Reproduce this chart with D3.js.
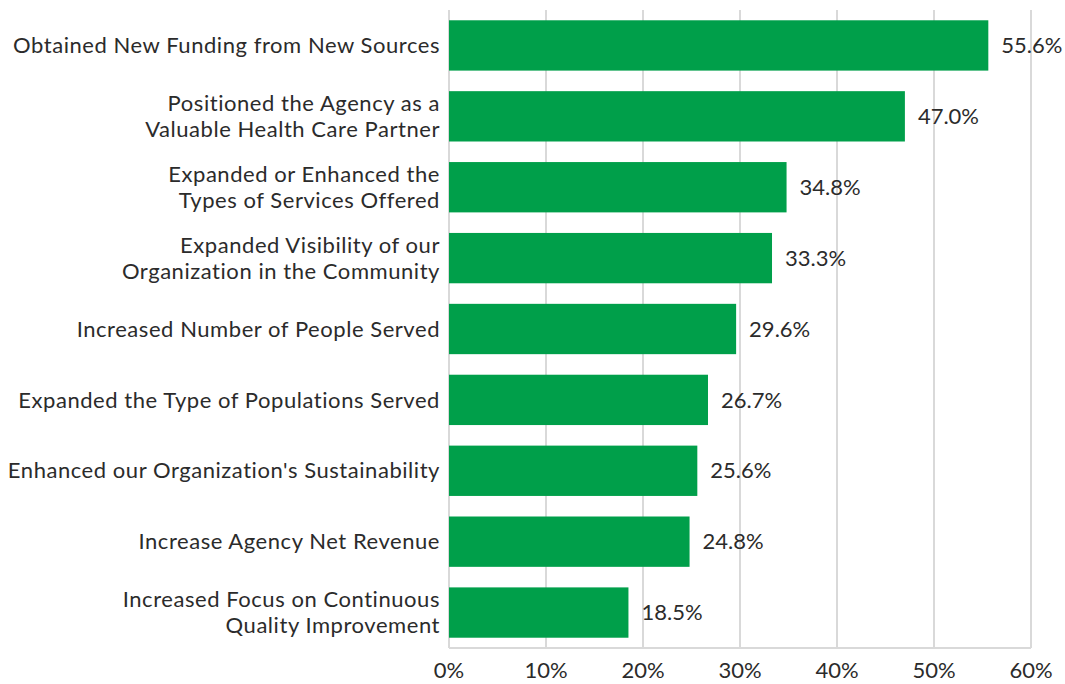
<!DOCTYPE html>
<html>
<head>
<meta charset="utf-8">
<script src="https://cdn.jsdelivr.net/npm/d3@7"></script>
<style>
  body { margin: 0; background: #fff; }
  text { font-family: Lato, "Open Sans", sans-serif; fill: #2b2b2b; }
</style>
</head>
<body>
<div id="chart"></div>
<script>
// Chart data
var categories = [
    ["Obtained New Funding from New Sources"],
    ["Positioned the Agency as a", "Valuable Health Care Partner"],
    ["Expanded or Enhanced the", "Types of Services Offered"],
    ["Expanded Visibility of our", "Organization in the Community"],
    ["Increased Number of People Served"],
    ["Expanded the Type of Populations Served"],
    ["Enhanced our Organization's Sustainability"],
    ["Increase Agency Net Revenue"],
    ["Increased Focus on Continuous", "Quality Improvement"]
];
var values = [55.6, 47.0, 34.8, 33.3, 29.6, 26.7, 25.6, 24.8, 18.5];
var ticks = [0, 10, 20, 30, 40, 50, 60];

var width = 1065, height = 684;
var margin = {top: 10, right: 34, bottom: 36, left: 449};
var fontSize = "22px";

var svg = d3.select("#chart").append("svg")
    .attr("width", width)
    .attr("height", height)

var x = d3.scaleLinear()
    .domain([0, 60])
    .range([margin.left, width - margin.right]);

var y = d3.scaleBand()
    .domain(d3.range(values.length))
    .range([margin.top, height - margin.bottom])
    .paddingInner(0.29)
    .paddingOuter(0.145);

// Gridlines
svg.append("g")
    .selectAll("line")
    .data(ticks)
    .enter()
    .append("line")
    .attr("x1", function(d) { return x(d); })
    .attr("x2", function(d) { return x(d); })
    .attr("y1", margin.top)
    .attr("y2", height - margin.bottom)
    .attr("stroke", "#d9d9d9")
    .attr("stroke-width", 2)

// Bottom axis line
svg.append("line")
    .attr("x1", x(0))
    .attr("x2", x(60))
    .attr("y1", height - margin.bottom)
    .attr("y2", height - margin.bottom)
    .attr("stroke", "#d9d9d9")
    .attr("stroke-width", 2)

// Bars
svg.append("g")
    .selectAll("rect")
    .data(values)
    .enter()
    .append("rect")
    .attr("x", x(0))
    .attr("y", function(d, i) { return y(i); })
    .attr("width", function(d) { return x(d) - x(0); })
    .attr("height", y.bandwidth())
    .attr("fill", "#009f4a")

// Value labels
svg.append("g")
    .selectAll("text")
    .data(values)
    .enter()
    .append("text")
    .attr("x", function(d) { return x(d) + 13; })
    .attr("y", function(d, i) { return y(i) + y.bandwidth() / 2; })
    .attr("dy", "0.35em")
    .style("font-size", fontSize)
    .text(function(d) { return d.toFixed(1) + "%"; })

// Category labels
var lineH = 26;
var cats = svg.append("g")
    .selectAll("text")
    .data(categories)
    .enter()
    .append("text")
    .attr("text-anchor", "end")
    .style("font-size", fontSize)
    .style("letter-spacing", "0.55px")
    .attr("transform", function(d, i) {
        return "translate(" + (margin.left - 9) + "," + (y(i) + y.bandwidth() / 2) + ")";
    })

cats.selectAll("tspan")
    .data(function(d) { return d.map(function(t, j) { return {t: t, j: j, n: d.length}; }); })
    .enter()
    .append("tspan")
    .attr("x", 0)
    .attr("y", function(d) { return (d.j - (d.n - 1) / 2) * lineH; })
    .attr("dy", "0.35em")
    .text(function(d) { return d.t; })

// Tick labels
svg.append("g")
    .selectAll("text")
    .data(ticks)
    .enter()
    .append("text")
    .attr("x", function(d) { return x(d); })
    .attr("y", height - margin.bottom + 22)
    .attr("dy", "0.35em")
    .attr("text-anchor", "middle")
    .style("font-size", fontSize)
    .text(function(d) { return d + "%"; })
</script>
</body>
</html>
